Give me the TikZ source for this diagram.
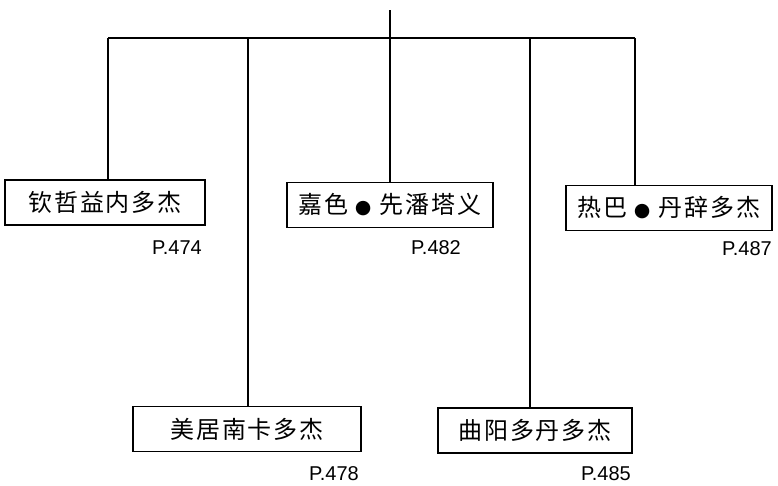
\documentclass[tikz,border=0pt]{standalone}
\usepackage{fontspec}
\newfontfamily\cjk[LetterSpace=8]{Noto Sans CJK SC}
\newfontfamily\lat{Liberation Sans}
\newfontfamily\djvfont{DejaVu Sans}
\newcommand{\dotsep}{\hspace{6pt}{\djvfont\fontsize{19}{19}\selectfont ●}\hspace{8pt}}
\begin{document}
\begin{tikzpicture}[x=1pt,y=-1pt,
  box/.style={draw,line width=1.5pt,inner sep=0pt,minimum height=45pt,font=\cjk\fontsize{24}{24}\selectfont},
  page/.style={inner sep=0pt,font=\lat\fontsize{20}{20}\selectfont},
  link/.style={line width=1.6pt}]
\useasboundingbox (0,0) rectangle (778,485);
\node[box,minimum width=200pt] (b1) at (105,202.5) {钦哲益内多杰};
\node[box,minimum width=206pt] (b2) at (390,205) {嘉色\dotsep 先潘塔义};
\node[box,minimum width=206pt] (b3) at (669,208) {热巴\dotsep 丹辞多杰};
\node[box,minimum width=228pt] (b4) at (247,429) {美居南卡多杰};
\node[box,minimum width=194pt] (b5) at (535,430.5) {曲阳多丹多杰};
\node[page,anchor=base east] (p1) at (202,254) {P.474};
\node[page,anchor=base] (p2) at (436,254) {P.482};
\node[page,anchor=base east] (p3) at (772,255) {P.487};
\node[page,anchor=base east] (p4) at (359,480) {P.478};
\node[page,anchor=base east] (p5) at (631,480) {P.485};
\coordinate (top) at (390,10);
\coordinate (j0) at (390,38);
\coordinate (j1) at (108,38);
\coordinate (j2) at (248,38);
\coordinate (j3) at (390,38);
\coordinate (j4) at (530,38);
\coordinate (j5) at (635,38);
\draw[link] (top) -- (j0);
\draw[link] (j1) -- (j5);
\draw[link] (j1) -- (j1 |- b1.north);
\draw[link] (j2) -- (j2 |- b4.north);
\draw[link] (j3) -- (j3 |- b2.north);
\draw[link] (j4) -- (j4 |- b5.north);
\draw[link] (j5) -- (j5 |- b3.north);
\end{tikzpicture}
\end{document}
